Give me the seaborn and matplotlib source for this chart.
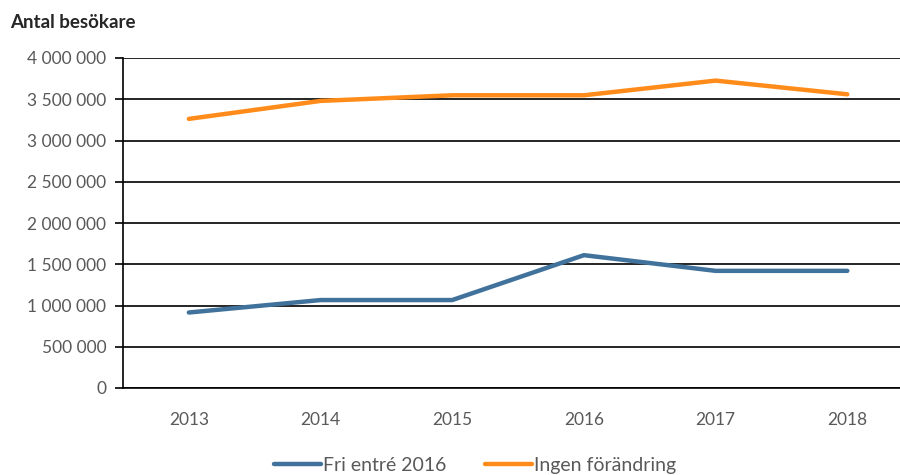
import seaborn as sns
import matplotlib.pyplot as plt
import pandas as pd

# Data
years = [2013, 2014, 2015, 2016, 2017, 2018]
fri_entre = [915000, 1066000, 1066000, 1610000, 1420000, 1420000]
ingen_forandring = [3262000, 3480000, 3548000, 3548000, 3726000, 3560000]
series_names = ["Fri entré 2016", "Ingen förändring"]
yticks = list(range(0, 4000001, 500000))

df = pd.DataFrame({
    "År": [str(y) for y in years] * 2,
    "Besökare": fri_entre + ingen_forandring,
    "Serie": [series_names[0]] * len(years) + [series_names[1]] * len(years),
})

sns.set_style("white")
plt.rcParams["font.family"] = ["Lato", "DejaVu Sans"]

fig = plt.figure(figsize=(9, 4.75), dpi=100)
ax = fig.add_axes([123 / 900, 1 - 388 / 475, (900 - 123) / 900, 330 / 475])

palette = {series_names[0]: "#41729b", series_names[1]: "#ff8c1a"}
sns.lineplot(data=df, x="År", y="Besökare", hue="Serie", palette=palette,
             linewidth=3.2, ax=ax, sort=False)

ax.set_ylim(0, 4000000)
ax.set_xlim(-0.5, 5.4)
ax.set_yticks(yticks)
ax.set_yticklabels([f"{v:,}".replace(",", " ") for v in yticks])
ax.yaxis.grid(True, color="black", linewidth=1.2)
ax.set_axisbelow(True)
ax.set_xlabel("")
ax.set_ylabel("")

for side in ["top", "right"]:
    ax.spines[side].set_visible(False)
for side in ["left", "bottom"]:
    ax.spines[side].set_color("black")
    ax.spines[side].set_linewidth(1.2)

ax.tick_params(axis="y", which="both", left=True, length=6, width=1.2,
               color="black", labelsize=12.5, labelcolor="#595959", pad=6)
ax.tick_params(axis="x", bottom=False, labelsize=12.5, labelcolor="#595959", pad=14)

fig.text(10 / 900, 1 - 22 / 475, "Antal besökare", fontsize=13.5, fontweight="bold",
         va="center", ha="left")

ax.legend(title=None, loc="center", bbox_to_anchor=(0.453, -0.235), ncol=2,
          frameon=False, fontsize=14, handlelength=2.4, handletextpad=0.1,
          columnspacing=2.0, labelcolor="#595959", borderpad=0)

fig.savefig("out.png", dpi=100)
